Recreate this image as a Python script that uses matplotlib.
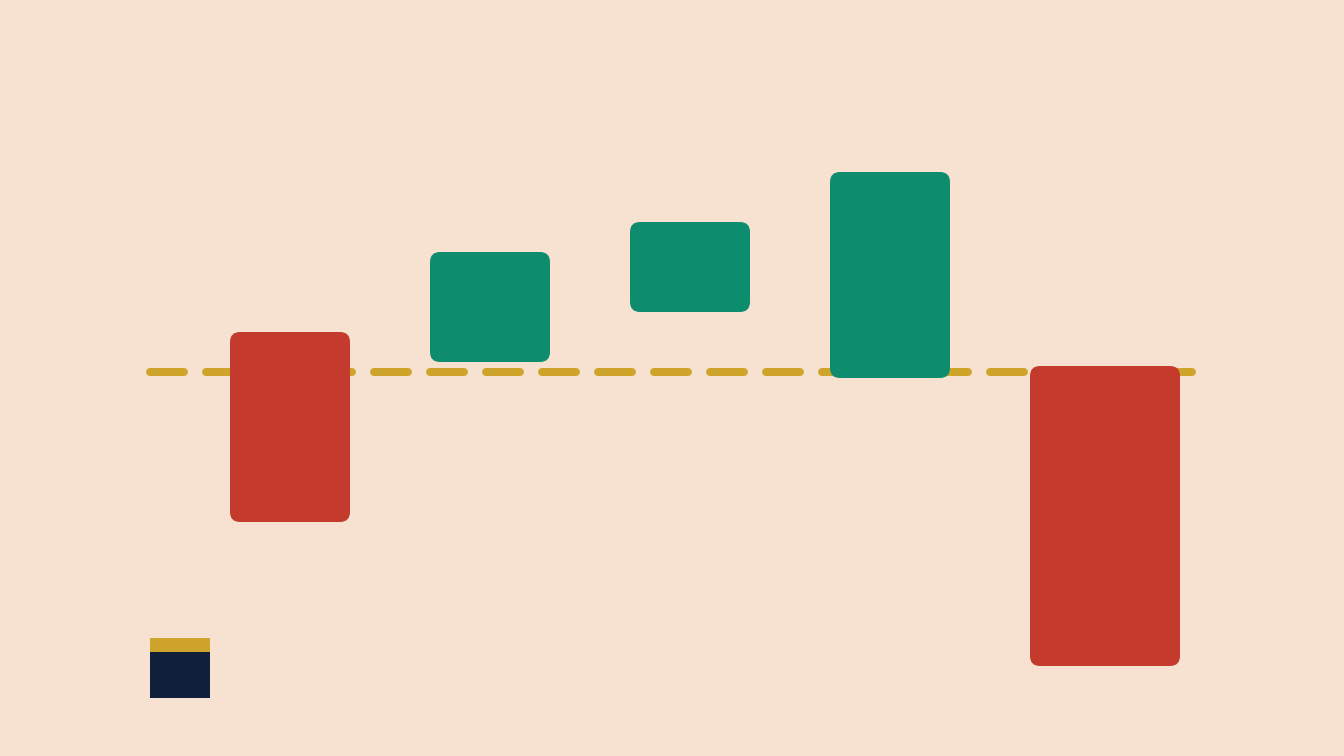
#!/usr/bin/env python3

import matplotlib
matplotlib.use("Agg")
import matplotlib.pyplot as plt
from matplotlib.patches import FancyBboxPatch, Rectangle


# floating bars: start / end of each step (baseline = 0)
steps = ["Step 1", "Step 2", "Step 3", "Step 4", "Step 5"]
bar_top = [20, 60, 75, 100, 3]
bar_bottom = [-75, 5, 30, -3, -147]
bar_kind = ["down", "up", "up", "up", "down"]
baseline = 0

BG = "#F7E2D2"
RED = "#C43B2E"
GREEN = "#0E8C6E"
GOLD = "#CFA42A"
NAVY = "#10203A"


def main():
    fig = plt.figure(figsize=(13.44, 7.56), dpi=100, facecolor=BG)
    ax = fig.add_axes([0, 0, 1, 1])
    ax.set_facecolor(BG)
    ax.set_xlim(-1.45, 5.27)
    ax.set_ylim(-192, 186)
    ax.axis("off")

    # dashed reference line at the baseline
    ax.plot([-0.7, 4.51], [baseline, baseline], color=GOLD, linewidth=5.76,
            linestyle=(0, (4.25, 2.75)), dash_capstyle="round", zorder=1)

    pos = list(range(len(steps)))
    widths = [0.6, 0.6, 0.6, 0.6, 0.75]
    heights = [t - b for t, b in zip(bar_top, bar_bottom)]
    colors = [GREEN if k == "up" else RED for k in bar_kind]
    bars = ax.bar([p - 0.3 for p in pos], heights, bottom=bar_bottom,
                  width=widths, align="edge", color=colors)

    # swap plain rectangles for rounded ones
    for rect in list(bars):
        x, y = rect.get_xy()
        w, h = rect.get_width(), rect.get_height()
        fc = rect.get_facecolor()
        rect.remove()
        ax.add_patch(FancyBboxPatch((x, y), w, h,
                                    boxstyle="round,pad=0,rounding_size=0.05",
                                    mutation_aspect=100, facecolor=fc,
                                    edgecolor="none", zorder=2))

    # small logo mark, bottom left
    fig.add_artist(Rectangle((150 / 1344, 58 / 756), 60 / 1344, 46 / 756,
                             transform=fig.transFigure, facecolor=NAVY,
                             edgecolor="none"))
    fig.add_artist(Rectangle((150 / 1344, 104 / 756), 60 / 1344, 14 / 756,
                             transform=fig.transFigure, facecolor=GOLD,
                             edgecolor="none"))

    fig.savefig("out.png", dpi=100, facecolor=BG)
    plt.close(fig)


if __name__ == "__main__":
    main()
